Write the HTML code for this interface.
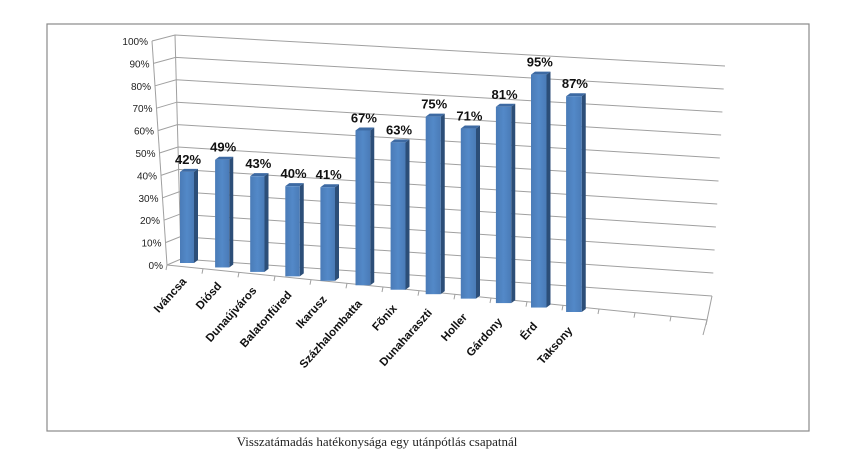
<!DOCTYPE html>
<html><head><meta charset="utf-8"><style>
html,body{margin:0;padding:0;background:#fff;}
svg{display:block;}
</style></head><body>
<svg width="852" height="459" viewBox="0 0 852 459" xmlns="http://www.w3.org/2000/svg" font-family="Liberation Sans, sans-serif">
<defs>
<linearGradient id="fg" x1="0" x2="1" y1="0" y2="0">
<stop offset="0" stop-color="#4a7bb7"/><stop offset="0.5" stop-color="#5389c8"/><stop offset="1" stop-color="#4a7bb7"/>
</linearGradient>
</defs>
<rect x="47" y="24" width="762" height="407" fill="#fff" stroke="#8a8a8a" stroke-width="1.2"/>
<g id="grid" stroke="#a0a0a0" stroke-width="1" fill="none"></g>
<g id="bars"></g>
<g id="labels"></g>
<text x="377" y="446" text-anchor="middle" font-family="Liberation Serif, serif" font-size="13" fill="#222">Visszatámadás hatékonysága egy utánpótlás csapatnál</text>
<script>
var ns="http://www.w3.org/2000/svg";
function el(t,a,p,txt){var e=document.createElementNS(ns,t);for(var k in a)e.setAttribute(k,a[k]);if(txt)e.textContent=txt;document.getElementById(p).appendChild(e);return e;}
var grid="grid";
for(var i=0;i<=10;i++){
 var v=i/10;
 var tx=167-15*v, ty=265-224*v;
 var lx=181-6*v, ly=259-224*v;
 var rx=712+13*v, ry=296-230*v;
 el("polyline",{points:tx+","+ty+" "+lx+","+ly+" "+rx+","+ry},grid);
 el("text",{x:tx-4,y:ty+4,"text-anchor":"end","font-size":"10",fill:"#222",stroke:"none"},grid,(i*10)+"%");
}
el("line",{x1:152,y1:41,x2:167,y2:265},grid);
el("line",{x1:175,y1:35,x2:181,y2:259},grid);
el("polyline",{points:"167,265 707,320 703,335"},grid);
el("line",{x1:707,y1:320,x2:712,y2:296},grid);
for(var j=0;j<=15;j++){var fx=167+j*36,fy=265+j*36*55/540;if(fx<=707)el("line",{x1:fx,y1:fy,x2:fx-1,y2:fy+5},grid);}
var names=["Iváncsa","Diósd","Dunaújváros","Balatonfüred","Ikarusz","Százhalombatta","Fõnix","Dunaharaszti","Holler","Gárdony","Érd","Taksony"];
var vals=[42,49,43,40,41,67,63,75,71,81,95,87];
for(var n=0;n<12;n++){
 var x=180+n*35.1, by=263+n*49/11, k=2.17+n*(2.48-2.17)/11;
 var w=14+n*0.15, h=vals[n]*k, ty=by-h;
 el("polygon",{points:(x+w)+","+ty+" "+(x+w+4)+","+(ty-3)+" "+(x+w+4)+","+(by-3)+" "+(x+w)+","+by,fill:"#2c4e78"},"bars");
 el("polygon",{points:x+","+ty+" "+(x+4)+","+(ty-3)+" "+(x+w+4)+","+(ty-3)+" "+(x+w)+","+ty,fill:"#3d6aa3"},"bars");
 el("rect",{x:x,y:ty,width:w,height:h,fill:"url(#fg)"},"bars");
 el("text",{x:x+w/2+1,y:ty-8,"text-anchor":"middle","font-size":"13","font-weight":"bold",fill:"#111"},"labels",vals[n]+"%");
 var lx=x+7, ly=by+19;
 el("text",{x:lx,y:ly,"text-anchor":"end","font-size":"11.5","font-weight":"bold",fill:"#111",transform:"rotate(-48 "+lx+" "+ly+")"},"labels",names[n]);
}
</script>
</svg>
</body></html>
